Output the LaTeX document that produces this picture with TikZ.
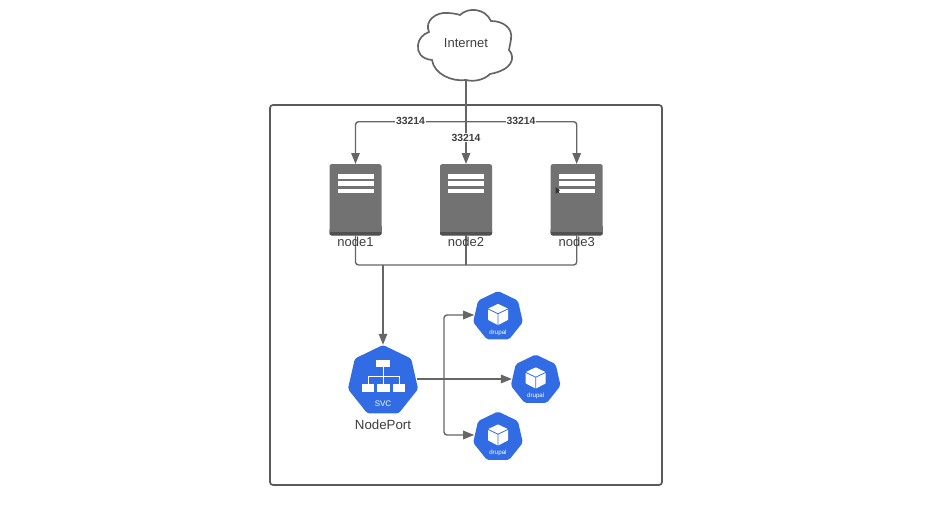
\documentclass[tikz,border=0pt]{standalone}
\usepackage{fontspec}
\setmainfont{Liberation Sans}
\usetikzlibrary{arrows.meta,shapes.geometric,calc}
\definecolor{linegrey}{HTML}{666666}
\definecolor{framegrey}{HTML}{5A5A5A}
\definecolor{srvgrey}{HTML}{727272}
\definecolor{srvdark}{HTML}{505050}
\definecolor{kubeblue}{HTML}{326CE5}
\definecolor{txtgrey}{HTML}{3F3F3F}
\tikzset{
  conn/.style={draw=linegrey,line width=1.4pt,rounded corners=3pt},
  arr/.style={conn,-{Triangle[length=11pt,width=8.5pt,fill=linegrey]}},
  portlabel/.style={font=\fontsize{10.4}{12}\selectfont\bfseries,text=txtgrey,fill=white,inner sep=1pt},
  serverbox/.style={draw=none,fill=srvgrey,rounded corners=2pt,minimum width=52pt,minimum height=71pt,inner sep=0pt},
  nodelabel/.style={font=\fontsize{13}{15}\selectfont,text=txtgrey,inner sep=0pt},
  bigpoly/.style={regular polygon,regular polygon sides=7,fill=kubeblue,rounded corners=2.5pt,minimum size=72pt,inner sep=0pt},
  smallpoly/.style={regular polygon,regular polygon sides=7,fill=kubeblue,rounded corners=2pt,minimum size=51pt,inner sep=0pt},
  podlabel/.style={font=\fontsize{6.2}{7}\selectfont,text=white,inner sep=0pt},
  bar/.style={fill=white,draw=none},
}
% server: name, x centre, label
\newcommand{\serverunit}[3]{%
  \node[serverbox] (#1) at (#2,199.7) {};
  \fill[srvdark,rounded corners=2pt] (#2-26,228) rectangle (#2+26,235.5);
  \fill[srvgrey] (#2-26,226) rectangle (#2+26,232);
  \fill[bar] (#2-18,174) rectangle (#2+18,178.7);
  \fill[bar] (#2-18,181.3) rectangle (#2+18,186);
  \fill[bar] (#2-18,188.7) rectangle (#2+18,193.3);
}
% pod: name, x centre, y centre
\newcommand{\kubepod}[3]{%
  \node[smallpoly] (#1) at (#2,#3) {};
  \begin{scope}[shift={(#2,#3-2.2)}]
    \fill[white,rounded corners=.6pt] (0,-10.5) -- (10,-5.6) -- (10,5.6) -- (0,10.8) -- (-10,5.6) -- (-10,-5.6) -- cycle;
    \draw[kubeblue,line width=.8pt] (-10.5,-5.6) -- (0,-.6) -- (10.5,-5.6) (0,-.6) -- (0,11);
  \end{scope}
  \node[podlabel] (#1t) at (#2,#3+16.2) {drupal};
}
\begin{document}
\begin{tikzpicture}[x=1pt,y=-1pt]
\useasboundingbox (0,0) rectangle (926,506);
\fill[white] (0,0) rectangle (926,506);
% frame
\draw[framegrey,line width=1.7pt,rounded corners=3pt] (270,105) rectangle (662,485);
% cloud
\draw[linegrey,line width=1.7pt,fill=white]
  (466,80)
  .. controls (452,82) and (434,74) .. (432,60)
  .. controls (421,59) and (417,52) .. (418,45)
  .. controls (418.5,39) and (423,34) .. (429,32)
  .. controls (424,21) and (436,12) .. (447,13)
  .. controls (452,13) and (457,14) .. (460,15)
  .. controls (468,7) and (485,8) .. (491,21)
  .. controls (503,21) and (513,28) .. (511,39)
  .. controls (510.5,43) and (509.5,47) .. (509,50)
  .. controls (516,58) and (512,70) .. (490,74)
  .. controls (484,80) and (474,82) .. (466,80) -- cycle;
\node[minimum width=90pt,minimum height=73pt,inner sep=0pt,font=\fontsize{13}{15}\selectfont,text=txtgrey] (internet) at (466,43.5) {Internet};
% servers
\serverunit{n1}{355.5}{node1}
\serverunit{n2}{466}{node2}
\serverunit{n3}{576.7}{node3}
% nodes
\node[bigpoly] (svc) at (383,381) {};
\kubepod{p1}{498}{316.5}
\kubepod{p2}{535.7}{380}
\kubepod{p3}{498}{437}
% connectors: internet to nodes
\coordinate (split) at (466,121.7);
\draw[arr] (internet.south) -- (n2.north);
\draw[arr] (split) -| (n1.north);
\draw[arr] (split) -| (n3.north);
\node[portlabel] (l1) at (410.5,120.5) {33214};
\node[portlabel] (l2) at (466,137.7) {33214};
\node[portlabel] (l3) at (521,120.5) {33214};
% connectors: nodes to service
\coordinate (merge) at (383,265);
\draw[conn] (n1.south) |- (merge);
\draw[conn] (n3.south) |- (merge);
\draw[conn] (n2.south) -- (n2.south |- merge);
\draw[arr] (merge) -- (svc.north);
% labels
\node[nodelabel] (t1) at (355.5,241.7) {node1};
\node[nodelabel] (t2) at (466,241.7) {node2};
\node[nodelabel] (t3) at (576.7,241.7) {node3};
% service icon
\fill[white] (375.7,360) rectangle (390,367.3);
\fill[white] (361.7,384.3) rectangle (374.3,391.7);
\fill[white] (377.3,384.3) rectangle (390,391.7);
\fill[white] (393.3,384.3) rectangle (405,391.7);
\draw[white,line width=.9pt] (383,367) -- (383,384.5) (368,384.5) -- (368,376.7) -- (399,376.7) -- (399,384.5);
\node[inner sep=0pt,text=white,font=\fontsize{8}{9}\selectfont] (svct) at (383,403.3) {SVC};
\node[nodelabel,font=\fontsize{13.3}{15}\selectfont] (svcl) at (383,425) {NodePort};
% connectors: service to pods
\coordinate (svcout) at (417,379);
\coordinate (fan) at (444,379);
\draw[arr] (svcout) -- (p2.west |- svcout);
\draw[arr] (fan) |- (p1.west |- 444,315);
\draw[arr] (fan) |- (p3.west |- 444,435);
% pointer
\fill[black!80] (555.5,187) -- (555.5,194) -- (557.2,192.3) -- (559.5,193.5) -- (558.5,191) -- (560,190.5) -- cycle;
\end{tikzpicture}
\end{document}
